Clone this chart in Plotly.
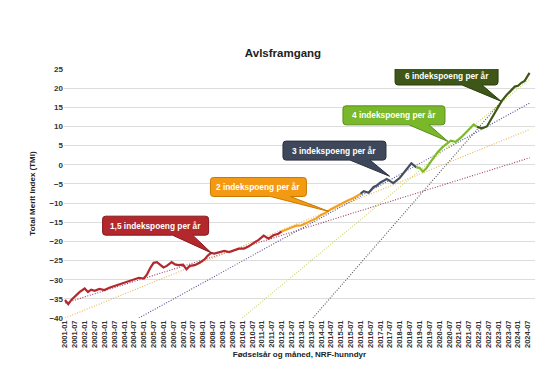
import plotly.graph_objects as go

# ---------------- data ----------------
red_months = ["2001-01", "2001-03", "2001-05", "2001-07", "2001-10", "2002-01", "2002-03", "2002-05",
              "2002-07", "2002-10", "2003-01", "2003-04", "2003-07", "2003-10", "2004-01", "2004-04",
              "2004-07", "2004-10", "2005-01", "2005-03", "2005-05", "2005-07", "2005-09", "2005-11",
              "2006-01", "2006-03", "2006-06", "2006-08", "2006-10", "2007-01", "2007-03", "2007-05",
              "2007-08", "2007-11", "2008-02", "2008-04", "2008-06", "2008-08", "2008-11", "2009-02",
              "2009-05", "2009-08", "2009-11", "2010-02", "2010-05", "2010-08", "2010-11", "2011-02",
              "2011-05", "2011-08", "2011-11", "2012-01"]
red_values = [-35.3, -36.4, -35.2, -34.3, -33.2, -32.3, -33.2, -32.6,
              -32.9, -32.4, -32.7, -32.1, -31.7, -31.2, -30.7, -30.4,
              -29.9, -29.5, -29.7, -28.6, -26.9, -25.6, -25.4, -26.0,
              -26.8, -26.4, -25.4, -26.0, -26.2, -26.1, -27.3, -26.4,
              -26.2, -25.6, -24.7, -23.7, -23.0, -23.2, -22.8, -22.5,
              -22.8, -22.3, -21.9, -21.9, -21.3, -20.4, -19.6, -18.5,
              -19.3, -18.4, -18.0, -17.4]

orange_months = ["2012-01", "2012-04", "2012-07", "2012-10", "2013-01", "2013-04", "2013-07", "2013-10",
                 "2014-01", "2014-04", "2014-07", "2014-10", "2015-01", "2015-05", "2015-09", "2016-01"]
orange_values = [-17.4, -16.8, -16.4, -15.9, -15.8, -15.2, -14.6, -14.0,
                 -13.1, -12.5, -11.6, -10.9, -10.4, -9.4, -8.6, -7.6]

slate_months = ["2016-01", "2016-03", "2016-06", "2016-09", "2016-11", "2017-01", "2017-05", "2017-07",
                "2017-09", "2018-01", "2018-05", "2018-08", "2018-11"]
slate_values = [-7.6, -6.9, -7.3, -5.8, -5.4, -4.7, -3.7, -4.2,
                -4.8, -3.4, -1.2, 0.4, -0.7]

lgreen_months = ["2018-11", "2019-01", "2019-03", "2019-05", "2019-07", "2019-09", "2019-12", "2020-03",
                 "2020-06", "2020-08", "2020-11", "2021-02", "2021-05", "2021-08", "2021-10", "2021-12"]
lgreen_values = [-0.7, -0.8, -1.8, -1.0, 0.3, 1.5, 3.3, 4.6,
                 5.7, 6.3, 6.0, 7.0, 8.3, 9.5, 10.5, 9.9]

dgreen_months = ["2021-12", "2022-03", "2022-06", "2022-08", "2022-10", "2023-01", "2023-03", "2023-06",
                 "2023-09", "2023-11", "2024-01", "2024-03", "2024-05", "2024-08"]
dgreen_values = [9.9, 9.5, 10.0, 11.5, 13.2, 15.2, 16.6, 18.2,
                 19.5, 20.4, 20.6, 21.4, 21.9, 24.0]

# trend lines (dotted): start/end
trend_start_month = ["2001-01", "2001-01", "2004-10", "2010-01", "2013-08"]
trend_start_value = [-36.1, -40.0, -40.0, -40.0, -40.0]
trend_end_month = ["2024-08", "2024-08", "2024-08", "2024-08", "2023-03"]
trend_end_value = [1.8, 9.2, 16.1, 22.3, 16.6]

# callouts
callout_text = ["1,5 indekspoeng per år", "2 indekspoeng per år", "3 indekspoeng per år",
                "4 indekspoeng per år", "6 indekspoeng per år"]
callout_x = [2005.60, 2010.82, 2014.68, 2017.70, 2020.37]
callout_y = [-15.9, -5.8, 3.7, 12.9, 23.3]
callout_tip_x = [2008.43, 2014.40, 2017.48, 2020.44, 2023.13]
callout_tip_y = [-23.0, -12.2, -3.0, 6.1, 16.6]

years = list(range(2001, 2025))
tick_values = [y + h for y in years for h in (0.0, 0.5)]
tick_labels = [f"{y}-{m}" for y in years for m in ("01", "07")]

# ---------------- styles ----------------
FONT = "Liberation Sans, Arial, sans-serif"
seg_colors = ["#B3282D", "#F5A01E", "#444E61", "#7CBA2C", "#3F5719"]
trend_colors = ["#9B3A62", "#E9B452", "#4E5196", "#C9D770", "#555555"]
box_fill = ["#B3282D", "#F39A12", "#3F485A", "#79B82A", "#3E5617"]
box_line = ["#86181C", "#C77A00", "#2A303D", "#5A8D1B", "#2A3C0C"]
box_w_px = [106, 96, 103, 102, 103]
box_h_px = 19

W, H = 550, 367
ML, MR, MT, MB = 56, 23, 61, 57
XR = [2000.95, 2024.86]
YR = [-40, 25]
kx = (W - ML - MR) / (XR[1] - XR[0])
ky = (H - MT - MB) / (YR[1] - YR[0])


def ym(s):
    y, m = s.split("-")
    return int(y) + (int(m) - 1) / 12.0


fig = go.Figure()

# dotted trend lines
for i in range(len(trend_start_month)):
    fig.add_trace(go.Scatter(
        x=[ym(trend_start_month[i]), ym(trend_end_month[i])],
        y=[trend_start_value[i], trend_end_value[i]],
        mode="lines", line=dict(color=trend_colors[i], width=1.1, dash="1px,1.6px"),
        hoverinfo="skip", showlegend=False))

# data line segments
segs = [(red_months, red_values), (orange_months, orange_values), (slate_months, slate_values),
        (lgreen_months, lgreen_values), (dgreen_months, dgreen_values)]
for (mo, va), c in zip(segs, seg_colors):
    fig.add_trace(go.Scatter(x=[ym(m) for m in mo], y=va, mode="lines",
                             line=dict(color=c, width=2.2), showlegend=False))


def bubble(cx, cy, tx, ty, wpx):
    hw = wpx / 2 / kx
    hh = box_h_px / 2 / ky
    rx, ry = 3 / kx, 3 / ky
    L, R, T, B = cx - hw, cx + hw, cy + hh, cy - hh
    b1, b2 = R - 36 / kx, R - 16 / kx
    pts = [f"M {L + rx},{T}", f"L {R - rx},{T}", f"Q {R},{T} {R},{T - ry}",
           f"L {R},{B + ry}", f"Q {R},{B} {R - rx},{B}", f"L {b2},{B}", f"L {tx},{ty}",
           f"L {b1},{B}", f"L {L + rx},{B}", f"Q {L},{B} {L},{B + ry}", f"L {L},{T - ry}",
           f"Q {L},{T} {L + rx},{T}", "Z"]
    return " ".join(pts)


shapes = []
annotations = []
for i in range(len(callout_text)):
    shapes.append(dict(type="path", xref="x", yref="y",
                       path=bubble(callout_x[i], callout_y[i], callout_tip_x[i], callout_tip_y[i], box_w_px[i]),
                       fillcolor=box_fill[i], line=dict(color=box_line[i], width=1), layer="above"))
    annotations.append(dict(x=callout_x[i], y=callout_y[i], xref="x", yref="y", showarrow=False,
                            text=f"<b>{callout_text[i]}</b>",
                            font=dict(family=FONT, size=8.3, color="white")))

fig.update_layout(
    width=W, height=H,
    margin=dict(l=ML, r=MR, t=MT, b=MB),
    paper_bgcolor="white", plot_bgcolor="white",
    title=dict(text="<b>Avlsframgang</b>", x=0.5, xanchor="center", y=1 - 45 / H, yanchor="middle",
               font=dict(family=FONT, size=11.5, color="#222222")),
    font=dict(family=FONT, color="#333333"),
    shapes=shapes, annotations=annotations,
    xaxis=dict(range=XR, tickmode="array", tickvals=tick_values, ticktext=tick_labels,
               tickangle=-90, tickfont=dict(family=FONT, size=7.5, color="#333333", weight="bold"),
               showgrid=False, zeroline=False, showline=False, ticks="",
               title=dict(text="<b>Fødselsår og måned, NRF-hunndyr</b>",
                          font=dict(family=FONT, size=8, color="#222222"), standoff=4)),
    yaxis=dict(range=YR, dtick=5, tick0=-40, showgrid=True, gridcolor="#DDDDDD", gridwidth=1,
               zeroline=False, showline=False, ticks="",
               tickfont=dict(family=FONT, size=8, color="#333333", weight="bold"),
               title=dict(text="<b>Total Merit Index (TMI)</b>",
                          font=dict(family=FONT, size=8, color="#222222"), standoff=12)),
)
fig.update_yaxes(tickformat="d")

fig.write_html("out.html")
